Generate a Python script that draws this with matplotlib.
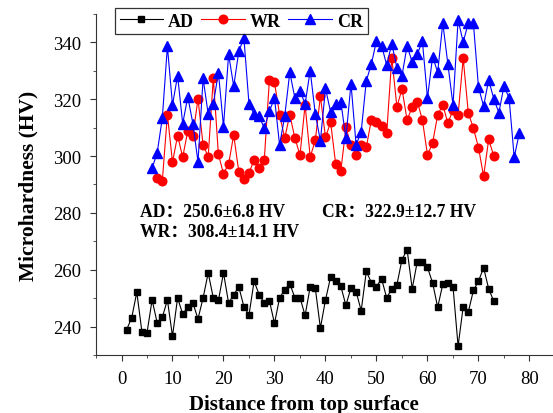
import matplotlib
matplotlib.use("Agg")
import matplotlib.pyplot as plt
from matplotlib.ticker import MultipleLocator

plt.rcParams['font.family'] = ['Liberation Serif', 'Noto Sans CJK SC']

# depth positions
ad_x = list(range(1, 74))
wr_x = list(range(7, 74))
cr_x = list(range(6, 79))

ad = [238.9, 243.1, 252.1, 238.2, 237.8, 249.4, 241.3, 243.2, 249.4, 236.6,
      250.1, 244.4, 246.9, 248.3, 242.7, 250.1, 258.9, 250.1, 249.2, 258.9,
      248.3, 251.2, 254.0, 247.0, 244.1, 256.0, 251.2, 248.3, 249.1, 241.1,
      250.1, 253.0, 255.0, 250.2, 250.2, 243.9, 254.0, 253.5, 239.5, 249.4,
      257.4, 256.1, 254.2, 247.5, 253.6, 252.3, 245.6, 259.4, 255.5, 254.1,
      256.8, 250.1, 253.3, 254.7, 263.6, 267.1, 253.3, 262.9, 262.9, 260.8,
      255.4, 246.8, 254.9, 255.4, 254.1, 233.1, 247.0, 245.1, 252.7, 256.0,
      260.7, 253.3, 248.9]

wr = [292.3, 291.2, 314.6, 297.8, 307.2, 299.6, 308.9, 307.2, 320.1, 303.9,
      299.8, 327.5, 300.6, 293.8, 297.2, 307.4, 294.5, 291.9, 294.0, 298.7,
      295.8, 298.7, 326.8, 325.9, 314.6, 306.3, 314.6, 306.3, 300.4, 318.0,
      299.7, 305.5, 321.0, 306.6, 311.9, 297.2, 294.6, 310.1, 303.9, 300.5,
      304.0, 303.1, 312.8, 311.9, 310.7, 308.1, 334.6, 317.3, 323.6, 312.7,
      317.2, 319.2, 312.7, 300.4, 304.6, 314.5, 318.0, 311.6, 316.2, 314.5,
      334.4, 315.2, 309.8, 303.0, 292.9, 305.9, 300.0]

cr = [295.7, 301.2, 313.3, 338.6, 318.0, 328.3, 311.4, 320.9, 311.4, 298.0,
      327.3, 314.8, 318.3, 329.4, 310.4, 335.8, 324.6, 336.8, 341.6, 318.3,
      314.8, 314.0, 309.8, 315.8, 320.4, 303.9, 314.0, 329.5, 320.4, 323.0,
      318.3, 330.1, 314.8, 305.4, 323.8, 315.5, 318.3, 319.2, 306.3, 325.5,
      303.9, 308.6, 326.5, 332.4, 340.6, 338.9, 332.0, 339.6, 331.0, 328.3,
      338.8, 333.0, 335.9, 340.4, 320.4, 335.0, 329.5, 346.8, 332.3, 318.0,
      347.9, 340.1, 346.8, 346.8, 324.2, 317.6, 326.8, 320.1, 315.3, 324.7,
      320.4, 299.6, 308.0]

fig = plt.figure(figsize=(5.53, 4.14), dpi=100)
ax = fig.add_axes([0.1736, 0.1401, 0.830, 0.8237])

ax.plot(ad_x, ad, color='black', marker='s', markersize=5, linewidth=0.8, label='AD')
ax.plot(wr_x, wr, color='red', marker='o', markersize=6.2, linewidth=0.8, label='WR')
ax.plot(cr_x, cr, color='blue', marker='^', markersize=6.5, linewidth=0.8, label='CR')

ax.set_xlim(-5, 85)
ax.set_ylim(230, 350)
ax.xaxis.set_major_locator(MultipleLocator(10))
ax.xaxis.set_minor_locator(MultipleLocator(5))
ax.yaxis.set_major_locator(MultipleLocator(20))
ax.yaxis.set_minor_locator(MultipleLocator(10))
ax.set_xticks(range(0, 81, 10))
ax.spines['top'].set_visible(False)
ax.spines['right'].set_visible(False)
for s in ['left', 'bottom']:
    ax.spines[s].set_color('#333333')
ax.tick_params(which='major', length=4, pad=6.5, direction='out', labelsize=13.5,
               colors='#333333', labelcolor='black')
ax.tick_params(which='minor', length=2.5, direction='out', colors='#333333')

ax.set_xlabel('Distance from top surface', fontsize=15, fontweight='bold', labelpad=5.5)
ax.xaxis.label.set_x(0.4525)
ax.set_ylabel('Microhardness (HV)', fontsize=15.5, fontweight='bold', labelpad=11)

ax.text(3.7, 280.4, 'AD：250.6±6.8 HV', fontsize=12.7, fontweight='bold', va='center')
ax.text(39.4, 280.4, 'CR：322.9±12.7 HV', fontsize=12.7, fontweight='bold', va='center')
ax.text(3.7, 273.4, 'WR：308.4±14.1 HV', fontsize=12.7, fontweight='bold', va='center')

leg = ax.legend(loc='upper left', bbox_to_anchor=(115 / 553, 1 - 9 / 414),
                bbox_transform=fig.transFigure, ncol=3, frameon=True, fancybox=False,
                borderaxespad=0, handlelength=2.4, columnspacing=0.4, handletextpad=0.3,
                borderpad=0.25, prop={'weight': 'bold', 'size': 13})
leg.get_frame().set_edgecolor('black')
leg.get_frame().set_linewidth(0.9)

fig.savefig('out.png', dpi=100)
